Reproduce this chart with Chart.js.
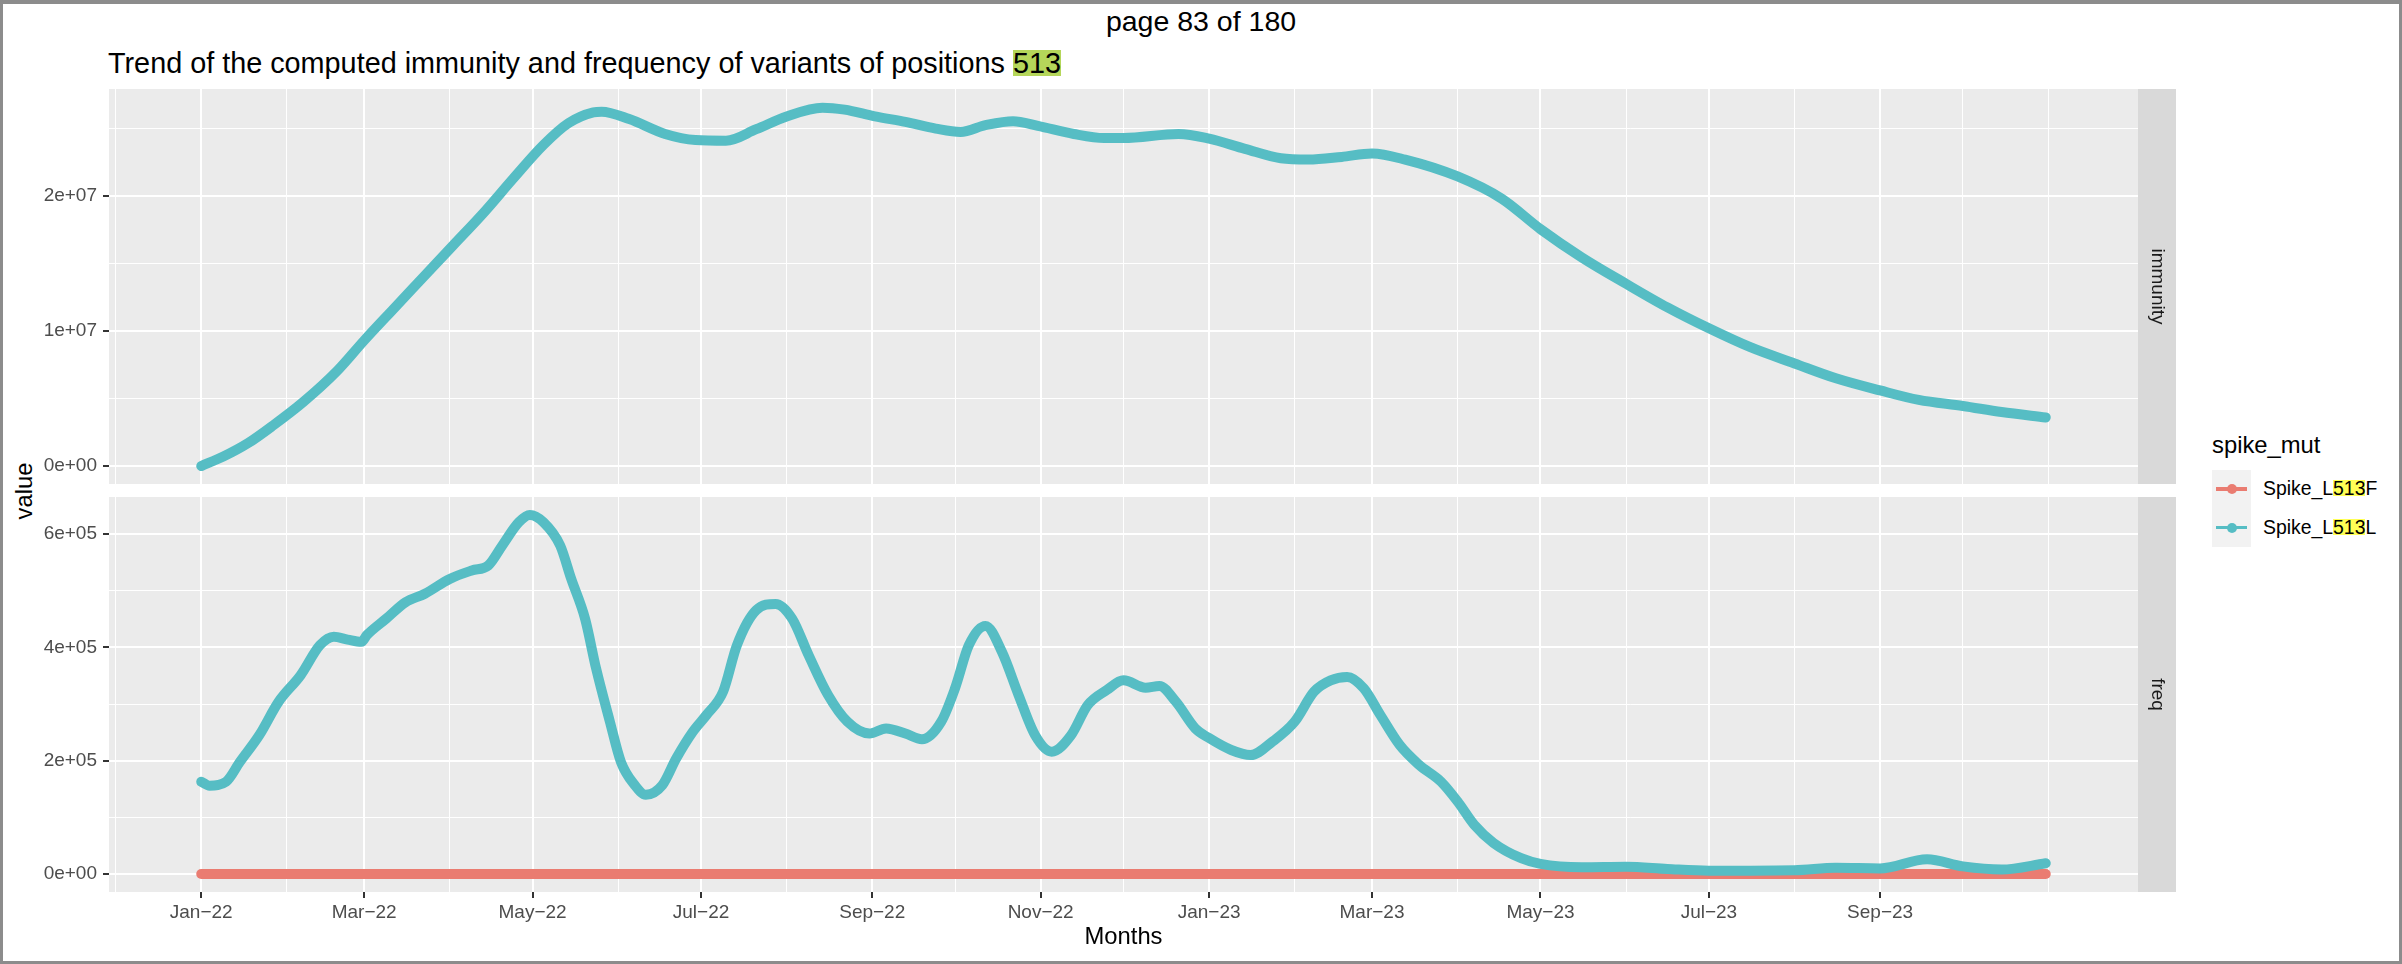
<!DOCTYPE html>
<html>
<head>
<meta charset="utf-8">
<script src="https://cdn.jsdelivr.net/npm/chart.js@4.4.1/dist/chart.umd.min.js"></script>
<style>
    html, body { margin: 0; padding: 0; }
    body {
        width: 2402px; height: 964px; position: relative; overflow: hidden;
        background: #fff; font-family: 'Liberation Sans', Arial, sans-serif;
    }
    #frame {
        position: absolute; left: 0; top: 0; width: 2402px; height: 964px;
        box-sizing: border-box; border: 3px solid #8c8c8c; border-top-width: 4px;
        pointer-events: none; z-index: 5;
    }
    canvas { position: absolute; left: 0; }
    #page-no {
        position: absolute; left: 0; width: 2402px; top: 7px; text-align: center;
        font-size: 28.5px; line-height: 28.5px; color: #000;
    }
    #title {
        position: absolute; left: 108px; top: 49px; white-space: nowrap;
        font-size: 28.8px; line-height: 28.8px; color: #000;
    }
    #title .hl { display: inline-block; height: 26px; line-height: 26px; background: #b5d65a; }
    #y-title {
        position: absolute; left: 24px; top: 491px; transform: translate(-50%, -50%) rotate(-90deg);
        font-size: 23.8px; line-height: 23.8px; color: #000; white-space: nowrap;
    }
    #legend { position: absolute; left: 2212px; top: 433px; }
    #legend .ltitle { font-size: 23.8px; line-height: 23.8px; color: #000; height: 37px; }
    #legend .row { display: flex; align-items: center; height: 38.4px; }
    #legend .key { position: relative; width: 39px; height: 100%; background: #f2f2f2; }
    #legend .key .ln { position: absolute; left: 4px; width: 31px; top: 50%; height: 3.5px; margin-top: -1.75px; }
    #legend .key .pt { position: absolute; left: 50%; top: 50%; width: 10px; height: 10px; margin: -5px 0 0 -5px; border-radius: 50%; }
    #legend .lab { margin-left: 12px; font-size: 19.4px; line-height: 19.4px; color: #000; white-space: nowrap; }
    #legend .lab .hl { display: inline-block; height: 16px; line-height: 16px; background: #ffff55; }
</style>
</head>
<body>
<div id="frame"></div>
<div id="page-no">page 83 of 180</div>
<div id="title"></div>
<div id="y-title">value</div>
<canvas id="immunity-chart" width="2176" height="395" style="top:89px"></canvas>
<canvas id="freq-chart" width="2176" height="463" style="top:497px"></canvas>
<div id="legend"></div>

<script>
// Series names and colours
const seriesNames = ['Spike_L513F', 'Spike_L513L'];
const seriesColors = ['#ea7c71', '#56bdc4'];
const highlightText = '513';

// Month gridlines (first of month) and their labels, '' = minor line
const monthTicks = ['2021-12-01', '2022-01-01', '2022-02-01', '2022-03-01', '2022-04-01', '2022-05-01',
    '2022-06-01', '2022-07-01', '2022-08-01', '2022-09-01', '2022-10-01', '2022-11-01', '2022-12-01',
    '2023-01-01', '2023-02-01', '2023-03-01', '2023-04-01', '2023-05-01', '2023-06-01', '2023-07-01',
    '2023-08-01', '2023-09-01', '2023-10-01', '2023-11-01'];
const monthLabels = ['', 'Jan\u221222', '', 'Mar\u221222', '', 'May\u221222', '', 'Jul\u221222', '', 'Sep\u221222', '',
    'Nov\u221222', '', 'Jan\u221223', '', 'Mar\u221223', '', 'May\u221223', '', 'Jul\u221223', '', 'Sep\u221223', '', ''];

// Y ticks per facet
const immTicks = [0, 5e6, 1e7, 1.5e7, 2e7, 2.5e7];
const immTickLabels = ['0e+00', '', '1e+07', '', '2e+07', ''];
const freqTicks = [0, 1e5, 2e5, 3e5, 4e5, 5e5, 6e5];
const freqTickLabels = ['0e+00', '', '2e+05', '', '4e+05', '', '6e+05'];

// immunity facet, Spike_L513L
const immDates = ['2022-01-01', '2022-01-09', '2022-01-18', '2022-01-27', '2022-02-07', '2022-02-19',
    '2022-03-01', '2022-03-11', '2022-03-22', '2022-04-02', '2022-04-13', '2022-04-24', '2022-05-05',
    '2022-05-14', '2022-05-23', '2022-05-26', '2022-06-05', '2022-06-18', '2022-06-29', '2022-07-10',
    '2022-07-21', '2022-08-01', '2022-08-14', '2022-08-22', '2022-09-02', '2022-09-13', '2022-09-24',
    '2022-10-03', '2022-10-12', '2022-10-22', '2022-10-31', '2022-11-13', '2022-11-24', '2022-12-01',
    '2022-12-21', '2023-01-01', '2023-01-14', '2023-01-27', '2023-02-06', '2023-02-18', '2023-03-01',
    '2023-03-13', '2023-04-01', '2023-04-17', '2023-05-01', '2023-05-16', '2023-06-01', '2023-06-16',
    '2023-07-01', '2023-07-16', '2023-08-01', '2023-08-16', '2023-09-01', '2023-09-15', '2023-10-01',
    '2023-10-15', '2023-10-31'];
const immL = [0, 0.07e7, 0.17e7, 0.30e7, 0.475e7, 0.70e7,
    0.93e7, 1.15e7, 1.39e7, 1.63e7, 1.87e7, 2.13e7, 2.38e7,
    2.54e7, 2.62e7, 2.625e7, 2.57e7, 2.46e7, 2.415e7, 2.41e7,
    2.495e7, 2.59e7, 2.655e7, 2.64e7, 2.59e7, 2.55e7, 2.50e7,
    2.475e7, 2.525e7, 2.555e7, 2.52e7, 2.46e7, 2.43e7, 2.43e7,
    2.46e7, 2.425e7, 2.35e7, 2.28e7, 2.27e7, 2.29e7, 2.315e7,
    2.27e7, 2.145e7, 1.98e7, 1.755e7, 1.545e7, 1.35e7, 1.175e7,
    1.02e7, 0.88e7, 0.76e7, 0.65e7, 0.56e7, 0.49e7, 0.445e7,
    0.40e7, 0.36e7];

// freq facet, Spike_L513L
const freqDates = ['2022-01-01', '2022-01-04', '2022-01-10', '2022-01-15', '2022-01-22', '2022-01-29',
    '2022-02-06', '2022-02-13', '2022-02-18', '2022-02-23', '2022-02-28', '2022-03-02', '2022-03-09',
    '2022-03-16', '2022-03-23', '2022-04-01', '2022-04-09', '2022-04-15', '2022-04-20', '2022-04-26',
    '2022-04-30', '2022-05-05', '2022-05-11', '2022-05-15', '2022-05-20', '2022-05-24', '2022-05-29',
    '2022-06-02', '2022-06-07', '2022-06-11', '2022-06-17', '2022-06-22', '2022-06-28', '2022-07-03',
    '2022-07-09', '2022-07-14', '2022-07-21', '2022-07-28', '2022-08-03', '2022-08-09', '2022-08-16',
    '2022-08-23', '2022-08-31', '2022-09-06', '2022-09-13', '2022-09-19', '2022-09-26', '2022-10-01',
    '2022-10-06', '2022-10-12', '2022-10-18', '2022-10-24', '2022-10-30', '2022-11-05', '2022-11-12',
    '2022-11-18', '2022-11-25', '2022-12-01', '2022-12-09', '2022-12-14', '2022-12-20', '2022-12-27',
    '2023-01-01', '2023-01-09', '2023-01-16', '2023-01-24', '2023-02-01', '2023-02-08', '2023-02-14',
    '2023-02-20', '2023-02-26', '2023-03-04', '2023-03-11', '2023-03-18', '2023-03-26', '2023-04-01',
    '2023-04-07', '2023-04-14', '2023-04-24', '2023-05-01', '2023-05-16', '2023-06-01', '2023-06-16',
    '2023-07-01', '2023-07-16', '2023-08-01', '2023-08-16', '2023-09-01', '2023-09-18', '2023-10-01',
    '2023-10-15', '2023-10-31'];
const freqL = [1.63e5, 1.56e5, 1.63e5, 1.98e5, 2.45e5, 3.04e5,
    3.51e5, 4.04e5, 4.19e5, 4.14e5, 4.10e5, 4.22e5, 4.51e5,
    4.80e5, 4.95e5, 5.21e5, 5.36e5, 5.45e5, 5.80e5, 6.21e5,
    6.34e5, 6.21e5, 5.80e5, 5.21e5, 4.51e5, 3.63e5, 2.69e5,
    1.98e5, 1.57e5, 1.40e5, 1.57e5, 2.04e5, 2.51e5, 2.81e5,
    3.22e5, 4.04e5, 4.66e5, 4.77e5, 4.51e5, 3.86e5, 3.16e5,
    2.69e5, 2.48e5, 2.57e5, 2.48e5, 2.38e5, 2.69e5, 3.28e5,
    4.04e5, 4.38e5, 3.92e5, 3.16e5, 2.45e5, 2.16e5, 2.45e5,
    2.98e5, 3.25e5, 3.42e5, 3.29e5, 3.32e5, 3.04e5, 2.57e5,
    2.40e5, 2.19e5, 2.10e5, 2.34e5, 2.69e5, 3.22e5, 3.42e5,
    3.48e5, 3.28e5, 2.81e5, 2.28e5, 1.93e5, 1.63e5, 1.28e5,
    0.87e5, 0.55e5, 0.28e5, 0.18e5, 0.12e5, 0.13e5, 0.09e5,
    0.06e5, 0.06e5, 0.065e5, 0.11e5, 0.10e5, 0.26e5, 0.135e5,
    0.08e5, 0.19e5];

// freq facet, Spike_L513F (flat at zero)
const freqFDates = ['2022-01-01', '2022-07-01', '2023-01-01', '2023-07-01', '2023-10-31'];
const freqF = [0, 0, 0, 0, 0];

document.addEventListener('DOMContentLoaded', () => {
    const FONT = "'Liberation Sans', Arial, sans-serif";
    const STRIP_W = 38;
    const AXIS_W = 109;

    // Days since 2022-01-01, used as the linear x value
    const toDay = (s) => {
        const [y, m, d] = s.split('-').map(Number);
        return (Date.UTC(y, m - 1, d) - Date.UTC(2022, 0, 1)) / 864e5;
    };
    const toPoints = (dates, values) => dates.map((d, i) => ({ x: toDay(d), y: values[i] }));

    const monthDays = monthTicks.map(toDay);
    const firstDay = toDay(freqDates[0]);
    const lastDay = toDay(freqDates[freqDates.length - 1]);
    const pad = (lastDay - firstDay) * 0.05;

    // Title with highlighted search hit
    const titleText = 'Trend of the computed immunity and frequency of variants of positions 513';
    document.getElementById('title').innerHTML =
        titleText.replace(highlightText, `<span class="hl">${highlightText}</span>`);

    // Grey panel background
    const panelBg = {
        id: 'panelBg',
        beforeDraw(chart) {
            const { ctx, chartArea: a } = chart;
            ctx.save();
            ctx.fillStyle = '#ebebeb';
            ctx.fillRect(a.left, a.top, a.right - a.left, a.bottom - a.top);
            ctx.restore();
        }
    };

    // Facet strip on the right side of the panel
    const facetStrip = {
        id: 'facetStrip',
        afterDraw(chart, args, opts) {
            const { ctx, chartArea: a } = chart;
            ctx.save();
            ctx.fillStyle = '#d9d9d9';
            ctx.fillRect(a.right, a.top, STRIP_W, a.bottom - a.top);
            ctx.translate(a.right + STRIP_W / 2, (a.top + a.bottom) / 2);
            ctx.rotate(Math.PI / 2);
            ctx.fillStyle = '#1a1a1a';
            ctx.font = `19px ${FONT}`;
            ctx.textAlign = 'center';
            ctx.textBaseline = 'middle';
            ctx.fillText(opts.label, 0, 0);
            ctx.restore();
        }
    };

    const tickFont = { family: FONT, size: 19 };

    // x axis shared by both panels
    const xScale = (showLabels) => ({
        type: 'linear',
        min: firstDay - pad,
        max: lastDay + pad,
        afterBuildTicks: (s) => { s.ticks = monthDays.map(v => ({ value: v })); },
        afterFit: (s) => {
            s.height = showLabels ? 68 : 0;
            s.paddingLeft = 0; s.paddingRight = 0;
        },
        border: { display: false },
        grid: {
            color: '#ffffff',
            lineWidth: (c) => (monthLabels[c.index] ? 2 : 1),
            drawTicks: showLabels,
            tickLength: 6,
            tickWidth: 2,
            tickColor: (c) => (monthLabels[c.index] ? '#333333' : 'rgba(0,0,0,0)')
        },
        ticks: {
            display: showLabels,
            autoSkip: false,
            maxRotation: 0,
            padding: 3,
            color: '#4d4d4d',
            font: tickFont,
            callback: (v, i) => monthLabels[i]
        },
        title: {
            display: showLabels,
            text: 'Months',
            color: '#000',
            font: { family: FONT, size: 23.8 },
            padding: { top: 0, bottom: 8 }
        }
    });

    // y axis for one facet
    const yScale = (min, max, ticks, labels) => ({
        min, max,
        afterBuildTicks: (s) => { s.ticks = ticks.map(v => ({ value: v })); },
        afterFit: (s) => {
            s.width = AXIS_W;
            s.paddingTop = 0; s.paddingBottom = 0;
        },
        border: { display: false },
        grid: {
            color: '#ffffff',
            lineWidth: (c) => (labels[c.index] ? 2 : 1),
            tickLength: 6,
            tickWidth: 2,
            tickColor: (c) => (labels[c.index] ? '#333333' : 'rgba(0,0,0,0)')
        },
        ticks: {
            autoSkip: false,
            padding: 6,
            color: '#4d4d4d',
            font: tickFont,
            callback: (v, i) => labels[i]
        }
    });

    const lineSet = (name, points, order) => {
        const idx = seriesNames.indexOf(name);
        return {
            label: name,
            data: points,
            order,
            borderColor: seriesColors[idx],
            backgroundColor: seriesColors[idx],
            borderWidth: 10,
            pointRadius: 0,
            borderCapStyle: 'round',
            borderJoinStyle: 'round',
            cubicInterpolationMode: 'monotone',
            fill: false
        };
    };

    // Function to build one facet panel
    const makePanel = (canvasId, strip, datasets, x, y) => new Chart(document.getElementById(canvasId), {
        type: 'line',
        data: { datasets },
        options: {
            responsive: false,
            animation: false,
            layout: { padding: { left: 0, right: STRIP_W, top: 0, bottom: 0 } },
            plugins: {
                legend: { display: false },
                tooltip: { enabled: false },
                facetStrip: { label: strip }
            },
            scales: { x, y }
        },
        plugins: [panelBg, facetStrip]
    });

    makePanel('immunity-chart', 'immunity',
        [lineSet('Spike_L513L', toPoints(immDates, immL), 1)],
        xScale(false),
        yScale(-1.33e6, 2.793e7, immTicks, immTickLabels));

    makePanel('freq-chart', 'freq',
        [lineSet('Spike_L513L', toPoints(freqDates, freqL), 1),
         lineSet('Spike_L513F', toPoints(freqFDates, freqF), 2)],
        xScale(true),
        yScale(-3.17e4, 6.657e5, freqTicks, freqTickLabels));

    // Legend built from the series lists
    const legend = document.getElementById('legend');
    legend.innerHTML = '<div class="ltitle">spike_mut</div>' + seriesNames.map((name, i) => `
        <div class="row">
            <div class="key">
                <div class="ln" style="background:${seriesColors[i]}"></div>
                <div class="pt" style="background:${seriesColors[i]}"></div>
            </div>
            <div class="lab">${name.replace(highlightText, `<span class="hl">${highlightText}</span>`)}</div>
        </div>`).join('');
});
</script>
</body>
</html>
